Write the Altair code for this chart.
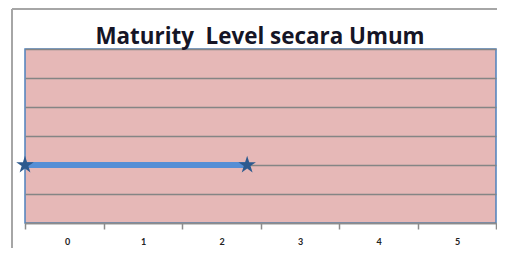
import altair as alt
import pandas as pd

# data
x_vals = [-0.5, 2.33]
y_vals = [2, 2]
x_ticks = [-0.5, 0.5, 1.5, 2.5, 3.5, 4.5, 5.5]
y_grid = [0, 1, 2, 3, 4, 5, 6]
title_text = "Maturity\u00a0 Level secara Umum"

df = pd.DataFrame({"x": x_vals, "y": y_vals})
tdf = pd.DataFrame({"t": [title_text]})

STAR = ("M0,-1 L0.2245,-0.309 L0.951,-0.309 L0.3633,0.118 L0.5878,0.809 "
        "L0,0.382 L-0.5878,0.809 L-0.3633,0.118 L-0.951,-0.309 L-0.2245,-0.309 Z")

xscale = alt.Scale(domain=[-0.5, 5.5], nice=False, zero=False)
yscale = alt.Scale(domain=[0, 6], nice=False, zero=False)

xaxis = alt.Axis(
    values=x_ticks, title=None, grid=False,
    labelExpr="datum.value < 5 ? format(datum.value + 0.5, 'd') : ''",
    labelOffset=39.5, labelPadding=8, labelFontSize=9, labelFontWeight="bold",
    labelColor="#222222", labelFont="Lato",
    tickSize=6, tickColor="#8C8C8C", tickWidth=1.5,
    domainColor="#8C8C8C", domainWidth=1.5,
)
yaxis = alt.Axis(
    values=y_grid, title=None, grid=True, labels=False, ticks=False,
    domain=False, gridColor="#858585", gridWidth=1.6,
)

X = alt.X("x:Q", scale=xscale, axis=xaxis)
Y = alt.Y("y:Q", scale=yscale, axis=yaxis)

base = alt.Chart(df)

line = base.mark_line(color="#558ED5", strokeWidth=6).encode(x=X, y=Y)
stars = base.mark_point(shape=STAR, size=340, filled=True, color="#2D5A8E", opacity=1).encode(x=X, y=Y)

frame_top = alt.Chart(tdf).mark_rule(color="#A6A6A6", strokeWidth=2).encode(
    x=alt.value(-13), x2=alt.value(472), y=alt.value(-40)
)
frame_left = alt.Chart(tdf).mark_rule(color="#A6A6A6", strokeWidth=2).encode(
    x=alt.value(-13), y=alt.value(-40), y2=alt.value(205)
)
title = alt.Chart(tdf).mark_text(
    fontSize=22.4, font="Open Sans", fontWeight="bold", color="#151526",
    align="center", baseline="alphabetic",
).encode(text="t:N", x=alt.value(235), y=alt.value(-5))

chart = alt.layer(frame_top, frame_left, line, stars, title).properties(
    width=471, height=174,
    autosize=alt.AutoSizeParams(type="none"),
    padding={"left": 17, "top": 41, "right": 1, "bottom": 25},
    background="white",
).configure_view(
    fill="#E6B8B7", stroke="#4F81BD", strokeWidth=1.5
)

chart.save("out.html", embed_options={"renderer": "svg", "actions": False})
